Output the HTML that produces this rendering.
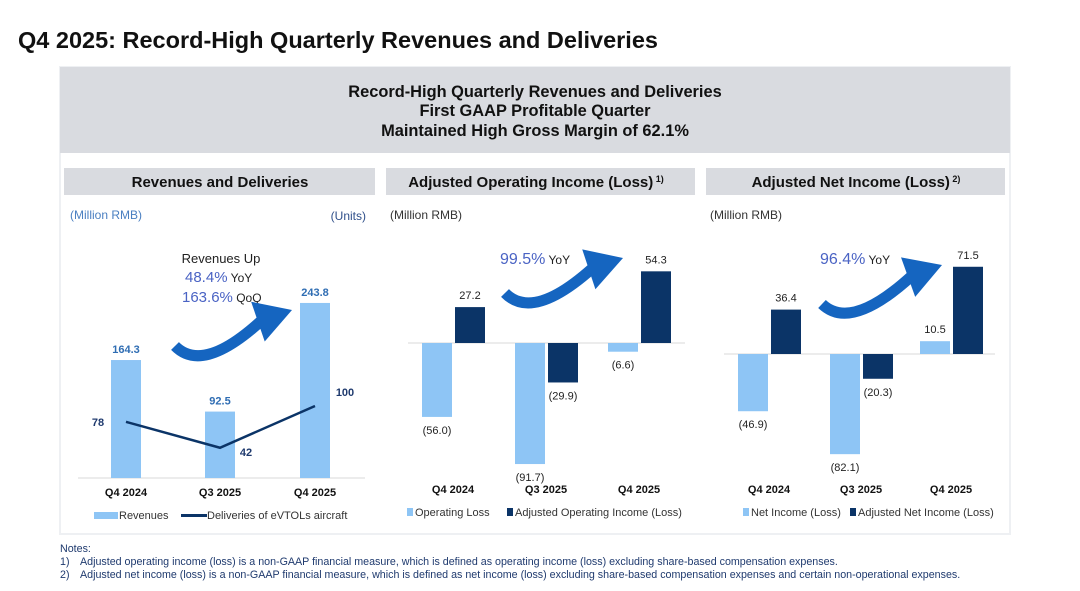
<!DOCTYPE html>
<html><head><meta charset="utf-8">
<style>
html,body{margin:0;padding:0;background:#fff;}
body{width:1080px;height:586px;overflow:hidden;font-family:"Liberation Sans","Noto Sans CJK SC",sans-serif;}
svg text{font-family:"Liberation Sans","Noto Sans CJK SC",sans-serif;}
</style></head>
<body>
<svg id="s" width="1080" height="586" viewBox="0 0 1080 586" xmlns="http://www.w3.org/2000/svg">
  <text x="18" y="48" font-size="23.5" font-weight="bold" fill="#111">Q4 2025: Record-High Quarterly Revenues and Deliveries</text>
  <rect x="60" y="67" width="950" height="467" fill="#fff" stroke="#eef0f3" stroke-width="2"/>
  <rect x="60" y="67" width="950" height="86" fill="#d9dbe0"/>
  <g font-size="16.4" font-weight="bold" fill="#111" text-anchor="middle">
    <text x="535" y="97">Record-High Quarterly Revenues and Deliveries</text>
    <text x="535" y="116">First GAAP Profitable Quarter</text>
    <text x="535" y="136">Maintained High Gross Margin of 62.1%</text>
  </g>
  <rect x="64" y="168" width="311" height="27" fill="#d9dbe0"/>
  <text x="220" y="187" font-size="15" font-weight="bold" text-anchor="middle" fill="#111">Revenues and Deliveries</text>
  <rect x="386" y="168" width="309" height="27" fill="#d9dbe0"/>
  <text x="536" y="187" font-size="15" font-weight="bold" text-anchor="middle" fill="#111">Adjusted Operating Income (Loss)<tspan font-size="9" dy="-5"> 1)</tspan></text>
  <rect x="706" y="168" width="299" height="27" fill="#d9dbe0"/>
  <text x="856" y="187" font-size="15" font-weight="bold" text-anchor="middle" fill="#111">Adjusted Net Income (Loss)<tspan font-size="9" dy="-5"> 2)</tspan></text>
  <text x="70" y="219" font-size="12" fill="#4a7fc1">(Million RMB)</text>
  <text x="366" y="220" font-size="12" fill="#2f4f8a" text-anchor="end">(Units)</text>
  <text x="390" y="219" font-size="12" fill="#333">(Million RMB)</text>
  <text x="710" y="219" font-size="12" fill="#333">(Million RMB)</text>
  <g id="c1"></g><g id="c2"></g><g id="c3"></g>
  <g font-size="10.7" fill="#1f3a6e">
    <text x="60" y="552">Notes:</text>
    <text x="60" y="565">1)</text><text x="80" y="565">Adjusted operating income (loss) is a non-GAAP financial measure, which is defined as operating income (loss) excluding share-based compensation expenses.</text>
    <text x="60" y="578">2)</text><text x="80" y="578">Adjusted net income (loss) is a non-GAAP financial measure, which is defined as net income (loss) excluding share-based compensation expenses and certain non-operational expenses.</text>
  </g>
</svg>
<script>
const categories = ["Q4 2024","Q3 2025","Q4 2025"];
const revenues = [164.3, 92.5, 243.8];
const deliveries = [78, 42, 100];
const operatingLoss = [-56.0, -91.7, -6.6];
const adjOperating = [27.2, -29.9, 54.3];
const netIncome = [-46.9, -82.1, 10.5];
const adjNet = [36.4, -20.3, 71.5];

const NS = "http://www.w3.org/2000/svg";
const LIGHT = "#8ec5f5", DARK = "#0b3467", ARROW = "#1565c0", PCT = "#4a63c4";
function mk(parent, tag, attrs, txt) {
  const e = document.createElementNS(NS, tag);
  for (const k in attrs) e.setAttribute(k, attrs[k]);
  if (txt !== undefined) e.textContent = txt;
  parent.appendChild(e);
  return e;
}
function fmt(v){ return v < 0 ? "(" + Math.abs(v).toFixed(1) + ")" : v.toFixed(1); }
function arrow(g, x0, y0, x1, y1) {
  const a = mk(g, "g", {});
  
  
  const dx = x1 - x0, dy = y1 - y0;
  const len = Math.hypot(dx, dy);
  const ux = dx/len, uy = dy/len, px = -uy, py = ux;
  const hl = 36, hw = 21;
  const bx = x1 - ux*hl, by = y1 - uy*hl;
  const cx = x0 + dx*0.15 + px*32, cy = y0 + dy*0.15 + py*32;
  mk(a, "path", {d:`M${x0},${y0-4} Q${cx},${cy} ${bx+ux*4},${by+uy*4}`, fill:"none", stroke:ARROW, "stroke-width":11, "stroke-linecap":"butt"});
  mk(a, "polygon", {points:`${x1},${y1} ${bx+px*hw},${by+py*hw} ${bx-px*hw},${by-py*hw}`, fill:ARROW});
}

// Chart 1
(function(){
  const g = document.getElementById("c1");
  const base = 478, k = 0.718, ku = 0.72, cx = [126, 220, 315], bw = 30;
  const ry = v => base - v*k, uy = v => base - v*ku;
  mk(g, "line", {x1:78, x2:365, y1:base, y2:base, stroke:"#d9d9d9", "stroke-width":1});
  revenues.forEach((v,i)=>{
    const r = mk(g, "rect", {x:cx[i]-bw/2, y:ry(v), width:bw, height:base-ry(v), fill:LIGHT});
    
    
    const t = mk(g, "text", {x:cx[i], y:ry(v)-7, "font-size":11, "font-weight":"bold", fill:"#2f6db3", "text-anchor":"middle"}, v.toFixed(1));
    
    
  });
  const pts = deliveries.map((v,i)=>[cx[i], uy(v)]);
  const ln = mk(g, "polyline", {points: pts.map(p=>p.join(",")).join(" "), fill:"none", stroke:DARK, "stroke-width":2.5});
  
  
  const off = [[-28,4],[26,8],[30,-10]];
  deliveries.forEach((v,i)=>{
    const t = mk(g, "text", {x:pts[i][0]+off[i][0], y:pts[i][1]+off[i][1], "font-size":11, "font-weight":"bold", fill:"#1f3a6e", "text-anchor":"middle"}, String(v));
    
    
  });
  categories.forEach((c,i)=>{
    const t = mk(g, "text", {x:cx[i], y:496, "font-size":11, "font-weight":"bold", fill:"#111", "text-anchor":"middle"}, c);
    
    
  });
  mk(g, "text", {x:221, y:263, "font-size":13, fill:"#222", "text-anchor":"middle"}, "Revenues Up");
  const t1 = mk(g, "text", {x:185, y:282, "font-size":15, fill:PCT}); t1.innerHTML = '48.4%<tspan font-size="12" fill="#222"> YoY</tspan>';
  const t2 = mk(g, "text", {x:182, y:302, "font-size":15, fill:PCT}); t2.innerHTML = '163.6%<tspan font-size="12" fill="#222"> QoQ</tspan>';
  arrow(g, 175, 350, 292, 310);
  const lg = mk(g, "g", {});
  
  
  mk(lg, "rect", {x:94, y:512, width:24, height:7, fill:LIGHT});
  mk(lg, "text", {x:119, y:519, "font-size":11, fill:"#333"}, "Revenues");
  mk(lg, "rect", {x:181, y:514, width:26, height:3, fill:DARK});
  mk(lg, "text", {x:207, y:519, "font-size":11, fill:"#333"}, "Deliveries of  eVTOLs aircraft");
})();

function dualChart(id, zero, k, xs, lightVals, darkVals, legend1, legend2, pct, pctX, pctY, arr, x0, x1) {
  const g = document.getElementById(id);
  const y = v => zero - v*k, bw = 30;
  mk(g, "line", {x1:x0, x2:x1, y1:zero, y2:zero, stroke:"#d9d9d9", "stroke-width":1});
  function bar(v, x, fill, name) {
    const top = Math.min(y(v), zero), h = Math.abs(y(v)-zero);
    const r = mk(g, "rect", {x:x, y:top, width:bw, height:h, fill:fill});
    
    
    const ty = v >= 0 ? y(v) - 8 : y(v) + 17;
    const t = mk(g, "text", {x:x+bw/2, y:ty, "font-size":11, fill:"#222", "text-anchor":"middle"}, fmt(v));
    
    
  }
  lightVals.forEach((v,i)=>bar(v, xs[i], LIGHT, 'gaap-bar'));
  darkVals.forEach((v,i)=>bar(v, xs[i]+33, DARK, 'adjusted-bar'));
  categories.forEach((c,i)=>{
    const t = mk(g, "text", {x:xs[i]+31, y:493, "font-size":11, "font-weight":"bold", fill:"#111", "text-anchor":"middle"}, c);
    
    
  });
  const pt = mk(g, "text", {x:pctX, y:pctY, "font-size":16, fill:PCT}); pt.innerHTML = pct + '<tspan font-size="12" fill="#222"> YoY</tspan>';
  arrow(g, arr[0], arr[1], arr[2], arr[3]);
  const lg = mk(g, "g", {});
  
  
  mk(lg, "rect", {x:legend1[0], y:508, width:6, height:8, fill:LIGHT});
  mk(lg, "text", {x:legend1[0]+8, y:516, "font-size":11, fill:"#333"}, legend1[1]);
  mk(lg, "rect", {x:legend2[0], y:508, width:6, height:8, fill:DARK});
  mk(lg, "text", {x:legend2[0]+8, y:516, "font-size":11, fill:"#333"}, legend2[1]);
}
dualChart("c2", 343, 1.32, [422, 515, 608], operatingLoss, adjOperating,
  [407, "Operating Loss"], [507, "Adjusted Operating Income (Loss)"], "99.5%", 500, 264, [505, 297, 623, 258], 408, 685);
dualChart("c3", 354, 1.22, [738, 830, 920], netIncome, adjNet,
  [743, "Net Income (Loss)"], [850, "Adjusted Net Income (Loss)"], "96.4%", 820, 264, [822, 308, 942, 265], 724, 995);
</script>
</body></html>
